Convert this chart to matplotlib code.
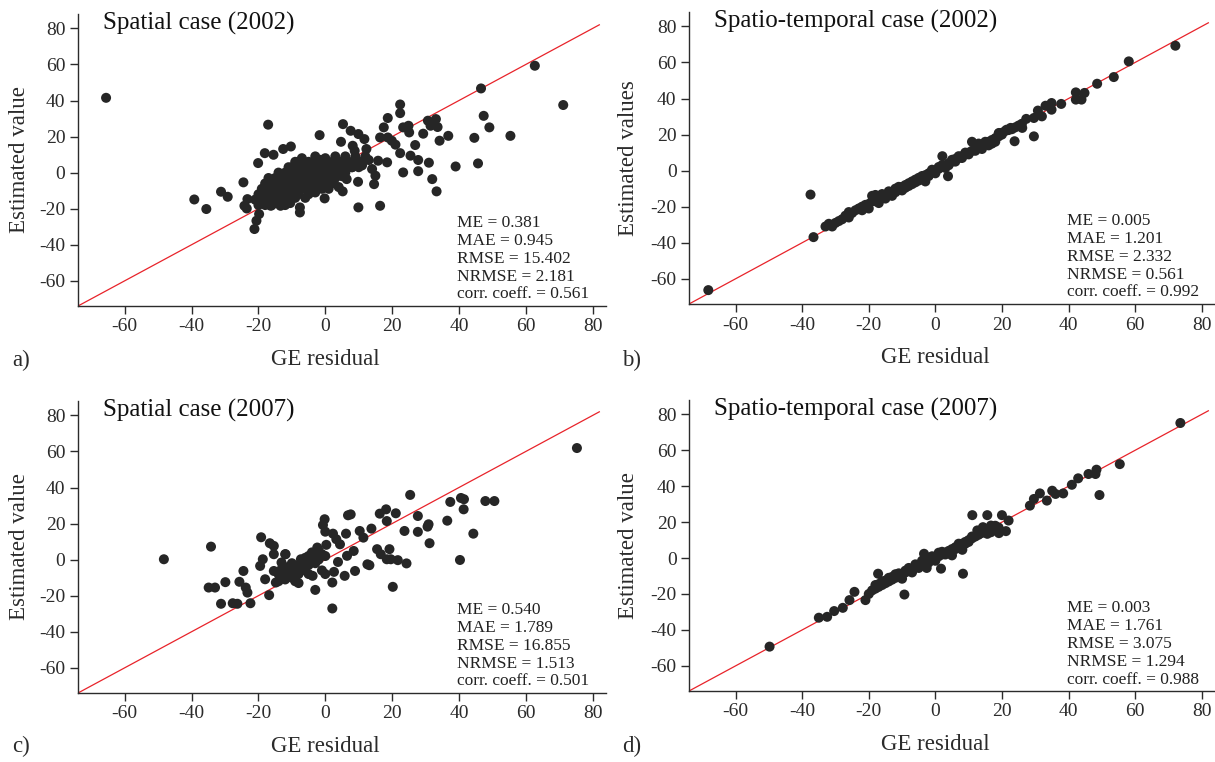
import matplotlib
matplotlib.use("Agg")
import matplotlib.pyplot as plt

plt.rcParams['font.family'] = ['Liberation Serif', 'DejaVu Serif']
plt.rcParams['axes.unicode_minus'] = False

# ---------------- data ----------------
# Panel a: Spatial case (2002)
a_x = [-65.6, 62.7, 46.6, 71.2, 47.4, 49.1, 55.4, 44.6, 39.0, 45.7, 36.8, 34.2, 33.1, 33.6, 30.7,
       31.5, 29.3, 31.0, 32.0, 33.3, 27.8, 27.8, 26.9, 22.4, 22.4, 23.3, 24.9, 25.1, 22.4, 23.3,
       25.5, 18.7, 17.5, 16.4, 18.7, 19.9, 21.0, 15.8, 18.5, 15.0, 14.6, 16.4, 9.9, 9.8, 5.3,
       7.6, 9.9, 11.7, 4.7, -1.7, 8.2, 8.8, 12.3, 7.0, 6.4, 5.2, 2.4, -0.2, -1.5, -17.1,
       -18.1, -15.5, -10.3, -12.6, -20.1, -24.5, -31.2, -29.2, -39.2, -35.6, -23.3, -24.2, -23.5, -21.2, -20.6,
       -19.8, -7.6, -7.6, -10.5, -13.4, -16.3,
       # dense cluster
       -20, -18, -16, -14, -12,
       -21, -19, -17, -15, -13, -11, -9, -6,
       -20, -18, -16, -14, -12, -10, -8, -5, -3,
       -19, -17, -15, -13, -11, -9, -7, -5, -3, -1,
       -18, -16, -14, -12, -10, -8, -6, -4, -2, 0, 2,
       -17, -15, -13, -11, -9, -7, -5, -3, -1, 1, 3, 5,
       -14, -12, -10, -8, -6, -4, -2, 0, 2, 4, 6,
       -10, -8, -6, -4, -2, 0, 2, 4, 6, 8, 10,
       -8, -5, -2, 1, 3, 5, 7, 9, 11,
       -3, 0, 3, 6, 9, 12,
       11, 13, 14, 12, 10, 8, 6, 3, -4, -6, 1, 4, -7, -9, -11]
a_y = [41.5, 59.3, 46.7, 37.5, 31.5, 25.1, 20.4, 19.3, 3.4, 5.1, 20.4, 17.7, 29.7, 25.3, 28.8,
       26.0, 21.6, 5.5, -3.6, -10.4, 0.8, 7.0, 15.3, 37.8, 33.0, 25.1, 26.0, 22.3, 10.8, 0.1,
       9.4, 30.3, 25.1, 19.5, 19.5, 17.7, 15.5, 6.6, 5.7, -1.7, -6.4, -18.4, -19.3, -5.1, 26.9,
       23.2, 21.4, 18.6, 17.1, 20.8, 14.9, 12.1, 13.1, 2.9, -3.6, -10.4, -4.5, -14.3, 7.1, 26.6,
       10.8, 9.9, 14.5, 13.1, 5.3, -5.4, -10.6, -13.4, -14.9, -20.2, -14.7, -18.4, -19.9, -31.3, -26.7,
       -23.0, -22.1, -19.3, -16.9, -18.4, -18.4,
       -18, -18, -18, -17, -18,
       -15, -15, -15, -14, -15, -15, -14, -14,
       -12, -12, -11, -12, -12, -11, -12, -12, -11,
       -9, -9, -8, -9, -9, -8, -9, -9, -8, -9,
       -6, -6, -5, -6, -6, -5, -6, -6, -5, -6, -6,
       -3, -3, -2, -3, -3, -2, -3, -3, -2, -3, -3, -2,
       0, 0, 1, 0, 0, 1, 0, 0, 1, 0, 0,
       3, 3, 4, 3, 3, 4, 3, 3, 4, 3, 3,
       6, 6, 6, 6, 7, 6, 6, 7, 6,
       9, 8, 9, 8, 9, 8,
       4, 7, 2, 9, 5, 3, 9, 5, 5, 4, -9, -8, 8, 6, 3]

# Panel b: Spatio-temporal case (2002)
b_x = [-68.2, -37.5, -36.6, 72.1, 58.1, 53.6, 48.6, 42.2, 44.8, 42.2, 43.9, 37.8, 34.9, 33.1, 34.9,
       32.0, 30.8, 29.6, 27.3, 29.6, 23.8, 26.1, 22.6, 21.4, 19.1, 3.8, 2.1,
       -33, -32, -31, -30, -29, -28, -27, -26, -26, -25, -24, -23, -22, -22, -21, -20, -20, -19, -19,
       -18, -18, -17, -17, -16, -16, -15, -15, -14, -14, -13, -13, -12, -12, -11, -11, -10, -10, -9, -9,
       -8, -8, -7, -7, -6, -6, -5, -5, -4, -4, -3, -3, -2, -2, -1, -1, 0, 0, 1, 1, 2, 2, 3, 3,
       4, 4, 5, 5, 6, 6, 7, 7, 8, 8, 9, 9, 10, 10, 11, 11, 12, 12, 13, 13, 14, 14, 15, 15,
       16, 16, 17, 17, 18, 18, 19, 19, 20, 20, 21, 22, 23, 24, 25, 26]
b_y = [-66.3, -13.3, -36.9, 69.3, 60.6, 51.9, 48.2, 43.4, 43.1, 39.4, 39.4, 37.0, 37.5, 36.0, 33.8,
       30.1, 33.3, 29.2, 28.7, 19.0, 16.3, 23.7, 23.7, 22.7, 20.9, -3.1, 8.0,
       -31, -29.5, -31, -29, -28, -27, -25, -23, -26, -23.5, -22, -21, -22, -20, -19, -21, -18.5, -14, -17,
       -13.5, -17, -16, -18, -15, -13, -14, -15.5, -13, -11.5, -12, -14, -10, -12, -10.5, -9, -9, -11, -8, -9.5,
       -7, -8.5, -6, -7.5, -5, -6.5, -4, -5.5, -4, -3, -2.5, -6, -1.5, -3, -1, 0.5, 0, -1.5, 1, 2, 2, 3, 3, 1.5,
       4, 3, 5, 6, 6.5, 5, 7, 8, 8, 7, 9, 10, 10, 9, 11, 16, 12, 11, 13, 15, 14, 12, 15, 16,
       16, 14, 17, 15, 18, 16, 19, 20.5, 20, 21, 22, 22.5, 23, 24, 25, 26]

# Panel c: Spatial case (2007)
c_x = [-48.3, -34.2, -34.9, -33.0, -29.9, -31.2, -27.7, -26.3, -25.7, -24.5, -23.8, -23.3, -22.4, -19.2, -19.5,
       -18.7, -18.0, -16.8, -16.6, -15.4, -15.4, -15.4, -14.8, -11.9, -13.1, -7.3, -3.0, -3.8, -2.4, -0.7,
       -0.2, 0.0, 0.3, 2.1, 2.1, 2.3, 3.3, 2.6, 3.8, 4.4, 5.8, 6.2, 6.5, 6.8, 7.6,
       8.5, 8.9, 10.3, 11.4, 12.6, 13.8, 13.2, 15.5, 16.3, 16.6, 18.2, 18.4, 18.4, 19.2, 19.6,
       20.2, 21.1, 21.7, 23.7, 24.3, 25.4, 27.7, 27.7, 30.9, 30.6, 31.2, 36.5, 37.4, 40.6, 41.5,
       41.4, 40.3, 44.3, 47.9, 50.6, 75.3,
       -14, -13, -12, -12, -11, -11, -10, -10, -10, -9, -9, -8, -8, -8, -7, -7, -6, -6, -5, -5, -5,
       -4, -4, -3, -3, -2, -2, -1, -1, 0, 0, -13, -14, -12]
c_y = [0.2, 7.2, -15.5, -15.5, -12.5, -24.5, -24.2, -24.5, -12.3, -6.3, -15.5, -18.3, -24.2, 12.4, -3.5,
       0.2, -10.9, -19.7, 9.1, 7.6, 3.0, -6.3, -12.7, 3.0, -1.6, 0.2, -16.8, -9.0, 6.7, 19.2,
       22.4, 15.5, 8.2, -12.7, -27.1, 14.4, 11.3, -6.8, -1.3, 8.5, -9.0, 14.4, 2.1, 24.6, 25.1,
       4.8, -6.3, 15.9, 12.2, -2.6, 17.2, -3.1, 5.8, 25.5, 3.0, 27.9, 21.4, 0.2, 5.8, 0.2,
       -15.1, 25.7, -0.3, 15.9, -2.1, 35.9, 24.2, 15.4, 19.6, 18.3, 9.1, 21.6, 32.0, 34.2, 33.5,
       27.9, -0.2, 14.4, 32.5, 32.5, 61.9,
       -8, -10, -6, -11, -4, -8, -2, -6, -10, -12, -5, -3, -8, -13, -1, -6, 1, -4, 2, -3, -8,
       4, 0, 3, -2, 5, 0, 3, -6, 2, -8, -5, -12, 3]

# Panel d: Spatio-temporal case (2007)
d_x = [-49.8, -35.0, -32.5, -30.4, -27.8, -25.8, -24.3, -21.0, -17.2, -9.3, -3.4, -2.6, 1.7, 8.3, 5.0,
       8.1, 11.1, 15.6, 20.0, 22.0, 21.2, 19.1, 16.7, 15.6, 16.7, 14.3, 12.6, 28.4, 29.6, 31.4,
       33.5, 35.1, 36.1, 38.4, 41.0, 42.9, 46.0, 48.4, 48.1, 49.3, 55.4, 73.6,
       -20, -19, -18, -18, -17, -17, -16, -16, -15, -15, -14, -14, -13, -13, -12, -12, -11, -11, -10, -10,
       -9, -9, -8, -8, -7, -7, -6, -6, -5, -5, -4, -4, -3, -3, -2, -2, -1, -1, 0, 0, 1, 1, 2, 2, 3, 3,
       4, 4, 5, 6, 6, 7, 7, 8, 9, 9, 10, 10, 11, 11, 12, 13, 13, 14, 15, 16, 17, 18, 18, 19]
d_y = [-49.3, -33.2, -32.7, -29.5, -27.7, -23.4, -18.8, -23.4, -8.7, -20.3, 2.4, -5.5, -5.9, -8.7, 1.5,
       4.6, 23.9, 23.9, 23.9, 20.9, 15.0, 13.9, 14.4, 13.5, 18.1, 17.2, 15.4, 29.2, 32.9, 36.0,
       32.0, 37.5, 35.7, 36.0, 40.8, 44.4, 46.8, 49.2, 46.8, 35.1, 52.3, 75.2,
       -20, -18, -17, -15, -16, -14.5, -15, -13, -14, -12.5, -13, -11, -12, -10.5, -11, -9, -10, -8.5, -9, -11.5,
       -8, -7, -7, -5.5, -6, -8, -5, -3.5, -4, -5.5, -3, -1.5, -2, 0.5, -1, -2.5, 0, 1, 0, -1.5, 1, 3, 2, 3.5, 3, 2,
       4, 3, 5, 6, 5, 7, 8, 8, 9, 8, 10, 9, 11, 12, 12, 13, 14, 14, 15, 16, 17, 16, 18, 17]

titles = ["Spatial case (2002)", "Spatio-temporal case (2002)",
          "Spatial case (2007)", "Spatio-temporal case (2007)"]
ylabels = ["Estimated value", "Estimated values", "Estimated value", "Estimated value"]
xlabel = "GE residual"
panel_tags = ["a)", "b)", "c)", "d)"]
stats = [
    ["ME = 0.381", "MAE = 0.945", "RMSE = 15.402", "NRMSE = 2.181", "corr. coeff. = 0.561"],
    ["ME = 0.005", "MAE = 1.201", "RMSE = 2.332", "NRMSE = 0.561", "corr. coeff. = 0.992"],
    ["ME = 0.540", "MAE = 1.789", "RMSE = 16.855", "NRMSE = 1.513", "corr. coeff. = 0.501"],
    ["ME = 0.003", "MAE = 1.761", "RMSE = 3.075", "NRMSE = 1.294", "corr. coeff. = 0.988"],
]
ticks = [-60, -40, -20, 0, 20, 40, 60, 80]
line_ends = [-74, 82]

# ---------------- layout ----------------
W, H = 1215, 762
fig = plt.figure(figsize=(W / 100, H / 100), dpi=100)

# pixel boxes (left, top, right, bottom)
boxes = [(78, 14, 606, 306), (689, 12, 1215, 304), (78, 401, 606, 693), (689, 400, 1215, 691)]
data = [(a_x, a_y), (b_x, b_y), (c_x, c_y), (d_x, d_y)]
tag_pos = [(12, 360), (622, 360), (12, 746), (622, 746)]
ylab_x = [-0.091, -0.095, -0.091, -0.095]

ink = '#2b2b2b'
for i, (bx, dd) in enumerate(zip(boxes, data)):
    l, t, r, b = bx
    ax = fig.add_axes([l / W, 1 - b / H, (r - l) / W, (b - t) / H])
    ax.plot(line_ends, line_ends, color='#e8232a', lw=0.9, zorder=1)
    ax.scatter(dd[0], dd[1], s=52, color='#262626', edgecolors='none', zorder=2)
    ax.set_xlim(-74, 84)
    ax.set_ylim(-74, 88)
    ax.set_xticks(ticks)
    ax.set_yticks(ticks)
    ax.tick_params(direction='out', length=6, width=1, colors=ink, labelsize=14, pad=3)
    for s in ['top', 'right']:
        ax.spines[s].set_visible(False)
    for s in ['left', 'bottom']:
        ax.spines[s].set_color(ink)
        ax.spines[s].set_linewidth(1)
    ax.set_xlabel(xlabel, fontsize=16.5, color=ink)
    ax.xaxis.set_label_coords(74 / 158, -0.148)
    ax.set_ylabel(ylabels[i], fontsize=16.5, color=ink)
    ax.yaxis.set_label_coords(ylab_x[i], 0.5)
    ax.text(0.047, 0.968, titles[i], transform=ax.transAxes, fontsize=18,
            ha='left', va='center', color='#111111')
    ax.text(0.718, 0.012, "\n".join(stats[i]), transform=ax.transAxes, fontsize=12.5,
            ha='left', va='bottom', linespacing=1.16, color='#222222')
    fig.text(tag_pos[i][0] / W, 1 - tag_pos[i][1] / H, panel_tags[i], fontsize=16.5,
             ha='left', va='center', color=ink)

fig.savefig("out.png", dpi=100)
